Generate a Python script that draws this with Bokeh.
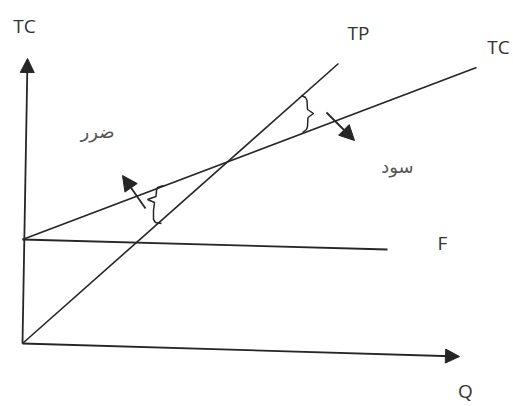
from bokeh.plotting import figure
from bokeh.models import Range1d, Arrow, NormalHead, ColumnDataSource
from bokeh.core.properties import value
from bokeh.embed import file_html
from bokeh.resources import INLINE

# ---- data (quantity Q, value V) ----
# axes (start -> arrow tip)
yaxis_q = [0, 5]
yaxis_v = [0, 285]
xaxis_q = [0, 437]
xaxis_v = [0, -13]

# fixed cost F
f_q = [0, 365]
f_v = [104, 94]
# total product / revenue TP
tp_q = [0, 316]
tp_v = [0, 280]
# total cost TC
tc_q = [0, 454]
tc_v = [104, 276]

# braces (loss gap and profit gap)
brace_loss_q = [141, 135, 134, 133.5, 125, 132, 131, 131, 133, 139]
brace_loss_v = [158, 156, 153, 147, 144, 141, 133, 124, 121, 120]
brace_profit_q = [279, 283, 284.5, 285, 291, 285.5, 285, 284, 280]
brace_profit_v = [248, 246, 243, 234, 230, 226, 217, 214, 211]

# direction arrows (tail -> tip)
arrow_loss = (123, 135, 100, 168)
arrow_profit = (304, 231, 332, 203)

# labels
lat_labels = ["TC", "TP", "TC", "F", "Q"]
lat_q = [2, 336, 476, 420, 443]
lat_v = [318, 311, 297, 101, -47]

ar_labels = ["ضرر", "سود"]
ar_q = [75, 375]
ar_v = [212, 177]

INK = "#262626"

p = figure(width=513, height=406, output_backend="svg", toolbar_location=None,
           x_range=Range1d(-22, 491), y_range=Range1d(-63, 343),
           min_border=0)
p.axis.visible = False
p.grid.visible = False
p.outline_line_color = None
p.background_fill_color = "white"

def arrow(x0, y0, x1, y1, size=14):
    p.add_layout(Arrow(x_start=x0, y_start=y0, x_end=x1, y_end=y1,
                       line_color=INK, line_width=1.8,
                       end=NormalHead(size=size, fill_color=INK, line_color=INK, line_width=1)))

arrow(yaxis_q[0], yaxis_v[0], yaxis_q[1], yaxis_v[1], 14)
arrow(xaxis_q[0], xaxis_v[0], xaxis_q[1], xaxis_v[1], 14)

p.line(f_q, f_v, line_color=INK, line_width=1.8)
p.line(tp_q, tp_v, line_color=INK, line_width=1.6)
p.line(tc_q, tc_v, line_color=INK, line_width=1.7)

p.line(brace_loss_q, brace_loss_v, line_color=INK, line_width=1.5)
p.line(brace_profit_q, brace_profit_v, line_color=INK, line_width=1.5)

arrow(*arrow_loss, size=15)
arrow(*arrow_profit, size=15)

lat_src = ColumnDataSource(dict(x=lat_q, y=lat_v, t=lat_labels))
p.text(x="x", y="y", text="t", source=lat_src, text_font=value("Open Sans"),
       text_font_size="19px", text_color="#333333", text_align="center",
       text_baseline="middle")

ar_src = ColumnDataSource(dict(x=ar_q, y=ar_v, t=ar_labels))
p.text(x="x", y="y", text="t", source=ar_src, text_font=value("DejaVu Sans"),
       text_font_size="18px", text_color="#555555", text_align="center",
       text_baseline="middle")

open("out.html", "w").write(file_html(p, INLINE))
